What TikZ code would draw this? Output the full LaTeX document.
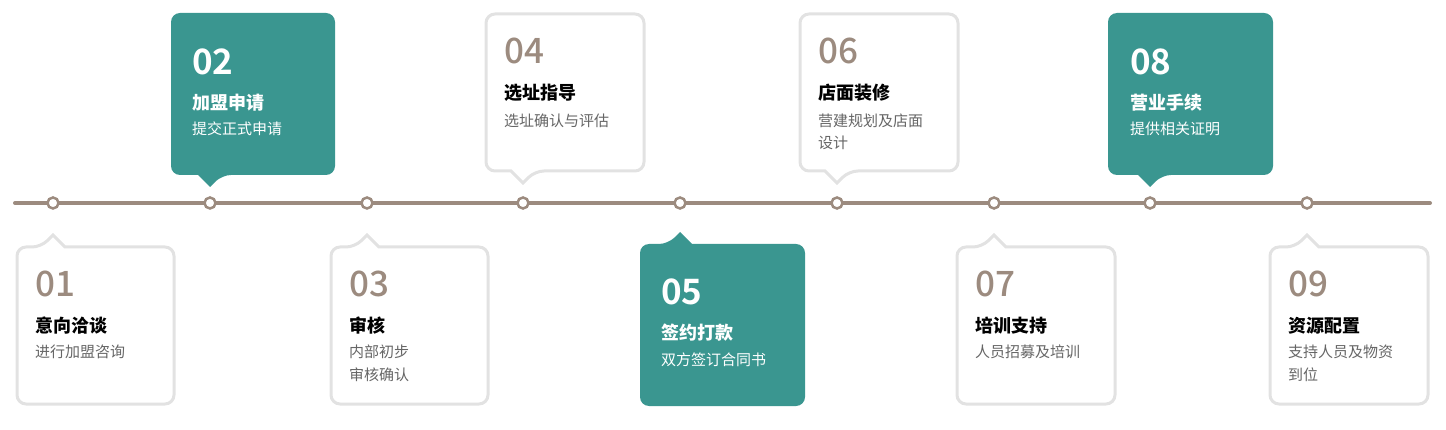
\documentclass[tikz,border=0pt]{standalone}
\usepackage{fontspec}
\setmainfont{Noto Sans CJK SC}
\newfontfamily\numm{Noto Sans CJK SC Medium}
\newfontfamily\numb{Noto Sans CJK SC Bold}
\definecolor{teal}{HTML}{3A9690}
\definecolor{brn}{HTML}{9C8B7F}
\definecolor{bord}{HTML}{E2E2E2}
\definecolor{subg}{HTML}{666666}
\begin{document}
\begin{tikzpicture}[x=1pt,y=-1pt,
  wbox/.style={draw=bord,line width=3pt,fill=white},
  tbox/.style={fill=teal},
  num/.style={anchor=base west,inner sep=0pt,font=\fontsize{35}{35}\numm},
  numt/.style={anchor=base west,inner sep=0pt,font=\fontsize{35}{35}\numb,text=white},
  ttl/.style={anchor=base west,inner sep=0pt,font=\fontsize{18}{18}\selectfont\bfseries},
  sub/.style={anchor=base west,inner sep=0pt,font=\fontsize{15}{15}\selectfont,text=subg},
  dot/.style={circle,draw=brn,line width=2.5pt,fill=white,minimum size=11pt,inner sep=0pt}]
\useasboundingbox (0,0) rectangle (1446,430);
\newcommand\calldown[6]{%
  \path[#6,rounded corners=9] (#1,#2) -- (#3,#2) -- (#3,#4) -- (#5+12,#4) [sharp corners]-- (#5,#4+12) -- (#5-12,#4) [rounded corners=9]-- (#1,#4) -- cycle;}
\newcommand\callup[6]{%
  \path[#6,rounded corners=9] (#1,#4) -- (#1,#2) -- (#5-12,#2) [sharp corners]-- (#5,#2-12) -- (#5+12,#2) [rounded corners=9]-- (#3,#2) -- (#3,#4) -- cycle;}
\callup{17}{247}{174}{404}{53}{wbox}
\calldown{171}{13}{335}{175}{210}{tbox}
\callup{331}{247}{488}{404}{367}{wbox}
\calldown{486}{14}{644}{171}{523}{wbox}
\callup{640}{244}{805}{406}{680}{tbox}
\calldown{800}{14}{958}{171}{837}{wbox}
\callup{957}{247}{1115}{404}{994}{wbox}
\calldown{1108}{13}{1273}{175}{1150}{tbox}
\callup{1270}{247}{1428}{404}{1307}{wbox}
\coordinate (L) at (15,203); \coordinate (R) at (1430,203);
\draw[brn,line width=4pt,line cap=round] (L) -- (R);
\foreach \x [count=\i] in {53,210,367,523,680,837,994,1150,1307}
  \node[dot] (d\i) at (\x,203) {};
\node[num,text=brn] (n1) at (35,297) {01};
\node[ttl] (t1) at (35,333) {意向洽谈};
\node[sub] (s1) at (35,358) {进行加盟咨询};
\node[numt] (n2) at (192,75) {02};
\node[ttl,text=white] (t2) at (192,110) {加盟申请};
\node[sub,text=white] (s2) at (192,135) {提交正式申请};
\node[num,text=brn] (n3) at (349,297) {03};
\node[ttl] (t3) at (349,333) {审核};
\node[sub] (s3) at (349,358) {内部初步};
\node[sub] (s3b) at (349,380) {审核确认};
\node[num,text=brn] (n4) at (504,64) {04};
\node[ttl] (t4) at (504,100) {选址指导};
\node[sub] (s4) at (504,127) {选址确认与评估};
\node[numt] (n5) at (661,305) {05};
\node[ttl,text=white] (t5) at (661,340) {签约打款};
\node[sub,text=white] (s5) at (661,365) {双方签订合同书};
\node[num,text=brn] (n6) at (818,64) {06};
\node[ttl] (t6) at (818,100) {店面装修};
\node[sub] (s6) at (818,127) {营建规划及店面};
\node[sub] (s6b) at (818,149) {设计};
\node[num,text=brn] (n7) at (975,297) {07};
\node[ttl] (t7) at (975,333) {培训支持};
\node[sub] (s7) at (975,358) {人员招募及培训};
\node[numt] (n8) at (1130,75) {08};
\node[ttl,text=white] (t8) at (1130,110) {营业手续};
\node[sub,text=white] (s8) at (1130,135) {提供相关证明};
\node[num,text=brn] (n9) at (1288,297) {09};
\node[ttl] (t9) at (1288,333) {资源配置};
\node[sub] (s9) at (1288,358) {支持人员及物资};
\node[sub] (s9b) at (1288,380) {到位};
\end{tikzpicture}
\end{document}
